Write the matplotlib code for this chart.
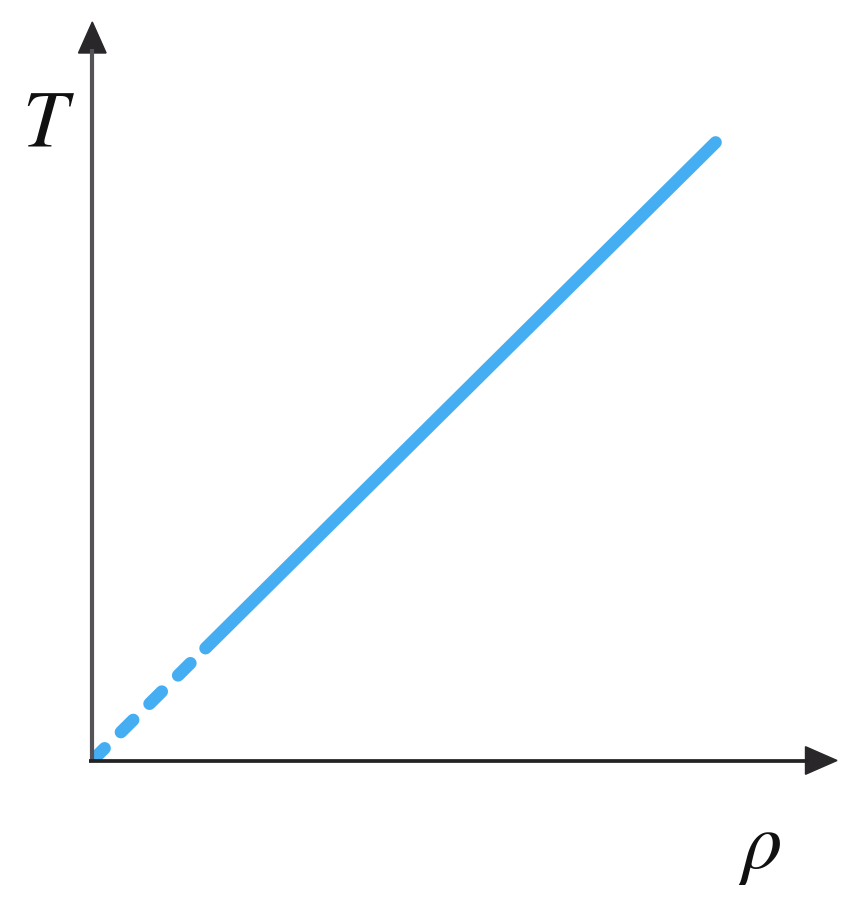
import matplotlib
matplotlib.use("Agg")
import matplotlib.pyplot as plt
from matplotlib.patches import Polygon

plt.rcParams['mathtext.fontset'] = 'stix'
plt.rcParams['lines.scale_dashes'] = False

# data (arbitrary units: T proportional to rho)
rho_dashed = [0.0, 1.52]
T_dashed = [0.0, 1.52]
rho_solid = [1.52, 8.37]
T_solid = [1.52, 8.37]

x_label = r'$\rho$'
y_label = r'$T$'

W, H = 860, 904
fig = plt.figure(figsize=(W / 100, H / 100), dpi=100)
x0, x1 = 92.3, 837.0
y0, y1 = 761.5, 23.0
ax = fig.add_axes([x0 / W, (H - y0) / H, (x1 - x0) / W, (y0 - y1) / H])
ax.set_xlim(0, 10)
ax.set_ylim(0, 10)
ax.axis('off')

blue = '#45AEF2'
lw = 9.0
ax.plot(rho_dashed, T_dashed, color=blue, lw=lw, solid_capstyle='round',
        dash_capstyle='round', linestyle=(0, (12.5, 16.5)), clip_on=True)
ax.plot(rho_solid, T_solid, color=blue, lw=lw, solid_capstyle='round', clip_on=False)

# axes with arrows (axes-fraction coordinates)
tr = ax.transAxes
hx = 13.8 / (x1 - x0)
hy = 13.8 / (y0 - y1)
ylen_head = (54.0 - y1) / (y0 - y1)
xlen_head = (x1 - 805.5) / (x1 - x0)
ax.plot([0, 0], [0, 1 - ylen_head + 0.005], color='#555358', lw=3.0,
        transform=tr, clip_on=False, solid_capstyle='butt')
ax.plot([-0.005, 1 - xlen_head + 0.005], [0, 0], color='#252224', lw=2.7,
        transform=tr, clip_on=False, solid_capstyle='butt')
ax.add_patch(Polygon([[0, 1], [-hx, 1 - ylen_head], [hx, 1 - ylen_head]],
                     closed=True, transform=tr, color='#29272a', clip_on=False))
ax.add_patch(Polygon([[1, 0], [1 - xlen_head, hy], [1 - xlen_head, -hy]],
                     closed=True, transform=tr, color='#29272a', clip_on=False))

fig.text(48 / W, 1 - 124 / H, y_label, fontsize=58, ha='center', va='center', color='#111111')
fig.text(760 / W, 1 - 848 / H, x_label, fontsize=58, ha='center', va='center', color='#111111')

fig.savefig('out.png', dpi=100, facecolor='white')
